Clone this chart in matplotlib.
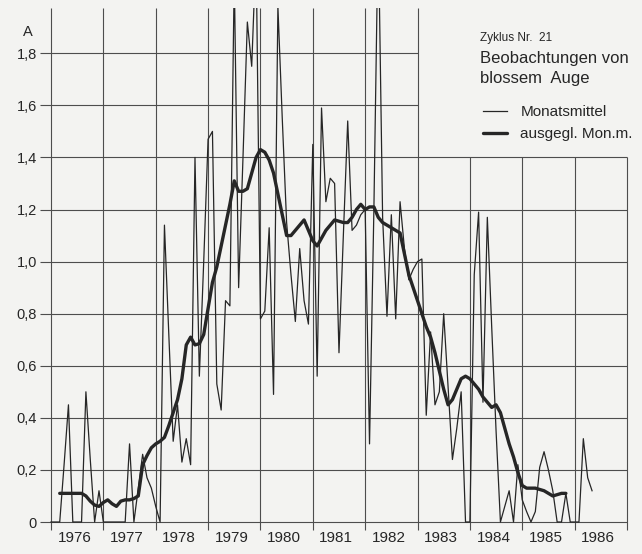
import matplotlib.pyplot as plt
import numpy as np

plt.rcParams['font.family'] = ['Liberation Sans', 'DejaVu Sans']

# Sonnenaktivität Zyklus 21, Monatsmittel A ab Januar 1976
monatsmittel = [
    0, 0, 0, 0.22, 0.45, 0, 0, 0, 0.50, 0.24, 0, 0.12,            # 1976
    0, 0, 0, 0, 0, 0, 0.30, 0, 0.13, 0.26, 0.17, 0.13,             # 1977
    0.06, 0, 1.14, 0.72, 0.31, 0.45, 0.23, 0.32, 0.22, 1.40, 0.56, 1.00,  # 1978
    1.47, 1.50, 0.53, 0.43, 0.85, 0.83, 2.10, 0.90, 1.40, 1.92, 1.75, 2.20,  # 1979
    0.78, 0.81, 1.13, 0.49, 1.98, 1.55, 1.15, 0.95, 0.77, 1.05, 0.85, 0.76,  # 1980
    1.45, 0.56, 1.59, 1.23, 1.32, 1.30, 0.65, 1.10, 1.54, 1.12, 1.14, 1.18,  # 1981
    1.20, 0.30, 1.20, 2.30, 1.17, 0.79, 1.18, 0.78, 1.23, 1.05, 0.93, 0.97,  # 1982
    1.00, 1.01, 0.41, 0.73, 0.45, 0.50, 0.80, 0.52, 0.24, 0.36, 0.50, 0,     # 1983
    0, 0.95, 1.19, 0.46, 1.17, 0.75, 0.35, 0, 0.06, 0.12, 0, 0.22,          # 1984
    0.085, 0.04, 0, 0.04, 0.21, 0.27, 0.20, 0.12, 0, 0, 0.11, 0,            # 1985
    0, 0, 0.32, 0.17, 0.12,                                                 # 1986
]

# ausgeglichene Monatsmittel, ab März 1976
ausgeglichen = [
    0.11, 0.11, 0.11, 0.11, 0.11, 0.11, 0.10, 0.08, 0.065, 0.06,
    0.075, 0.085, 0.07, 0.06, 0.08, 0.085, 0.085, 0.09, 0.10, 0.22, 0.255, 0.285,
    0.30, 0.31, 0.325, 0.37, 0.42, 0.47, 0.55, 0.68, 0.71, 0.68, 0.685, 0.72,
    0.82, 0.92, 0.98, 1.06, 1.14, 1.22, 1.31, 1.27, 1.27, 1.28, 1.34, 1.40,
    1.43, 1.42, 1.39, 1.34, 1.26, 1.18, 1.10, 1.10, 1.12, 1.14, 1.16, 1.12,
    1.08, 1.06, 1.09, 1.12, 1.14, 1.16, 1.155, 1.15, 1.15, 1.17, 1.20, 1.22,
    1.20, 1.21, 1.21, 1.17, 1.15, 1.14, 1.13, 1.12, 1.11, 1.03, 0.95, 0.90,
    0.85, 0.80, 0.75, 0.71, 0.65, 0.58, 0.51, 0.45, 0.47, 0.51, 0.55, 0.56,
    0.55, 0.53, 0.51, 0.48, 0.46, 0.44, 0.45, 0.42, 0.36, 0.30, 0.25, 0.19,
    0.14, 0.13, 0.13, 0.13, 0.125, 0.12, 0.11, 0.10, 0.105, 0.11, 0.11,
]

jahre = list(range(1976, 1987))
y_werte = [0, 0.2, 0.4, 0.6, 0.8, 1.0, 1.2, 1.4, 1.6, 1.8]
y_texte = ['0', '0,2', '0,4', '0,6', '0,8', '1,0', '1,2', '1,4', '1,6', '1,8']

papier = '#f3f3f1'
tinte = '#262626'
gitter = '#4d4d4d'

t_mon = 1976 + np.arange(len(monatsmittel)) / 12
t_ausg = 1976 + (np.arange(len(ausgeglichen)) + 2) / 12

W, H = 642, 554
fig = plt.figure(figsize=(W / 100, H / 100), dpi=100, facecolor=papier)
ax = fig.add_axes([39 / W, (H - 528) / H, (632 - 39) / W, (528 - 8) / H])
ax.set_facecolor(papier)

px_jahr = 52.36
px_einheit = 260.4
ax.set_xlim(1976 + (39 - 51) / px_jahr, 1976 + (632 - 51) / px_jahr)
ax.set_ylim((522 - 528) / px_einheit, (522 - 8) / px_einheit)
y_oben = ax.get_ylim()[1]

# Gitternetz, rechts oben ausgespart für die Beschriftung
x_links = 1976 + (40 - 51) / px_jahr
for y in y_werte:
    x_rechts = 1983 if y > 1.41 else 1987
    ax.hlines(y, x_links, x_rechts, color=gitter, lw=0.8, zorder=1)
for j in range(1976, 1988):
    y_ende = 1.4 if j > 1983 else y_oben
    ax.vlines(j, -0.03, y_ende, color=gitter, lw=0.8, zorder=1, clip_on=False)

l_mon, = ax.plot(t_mon, monatsmittel, color=tinte, lw=0.9, zorder=3)
l_ausg, = ax.plot(t_ausg, ausgeglichen, color=tinte, lw=2.4, zorder=4,
                  solid_capstyle='round', solid_joinstyle='round')

for s in ax.spines.values():
    s.set_visible(False)
ax.set_xticks(np.array(jahre) + 0.45, [str(j) for j in jahre])
ax.set_yticks(y_werte, y_texte)
ax.tick_params(axis='x', length=0, pad=2.5, labelsize=11, labelcolor=tinte)
ax.tick_params(axis='y', length=0, pad=1.5, labelsize=10.5, labelcolor=tinte)

fig.text(28 / W, 1 - 32 / H, 'A', ha='center', va='center', fontsize=10.5, color=tinte)
fig.text(480 / W, 1 - 41 / H, 'Zyklus Nr.  21', ha='left', va='baseline',
         fontsize=8.5, color=tinte)
fig.text(480 / W, 1 - 63 / H, 'Beobachtungen von', ha='left', va='baseline',
         fontsize=12, color=tinte)
fig.text(480 / W, 1 - 83 / H, 'blossem  Auge', ha='left', va='baseline',
         fontsize=12, color=tinte)

ax.legend([l_mon, l_ausg], ['Monatsmittel', 'ausgegl. Mon.m.'],
          loc='upper left', bbox_to_anchor=(483 / W, 1 - 105 / H),
          bbox_transform=fig.transFigure, frameon=False, borderpad=0,
          borderaxespad=0, handlelength=1.6, handletextpad=0.85,
          labelspacing=0.55, fontsize=11, labelcolor=tinte)

fig.savefig('out.png', dpi=100, facecolor=papier)
